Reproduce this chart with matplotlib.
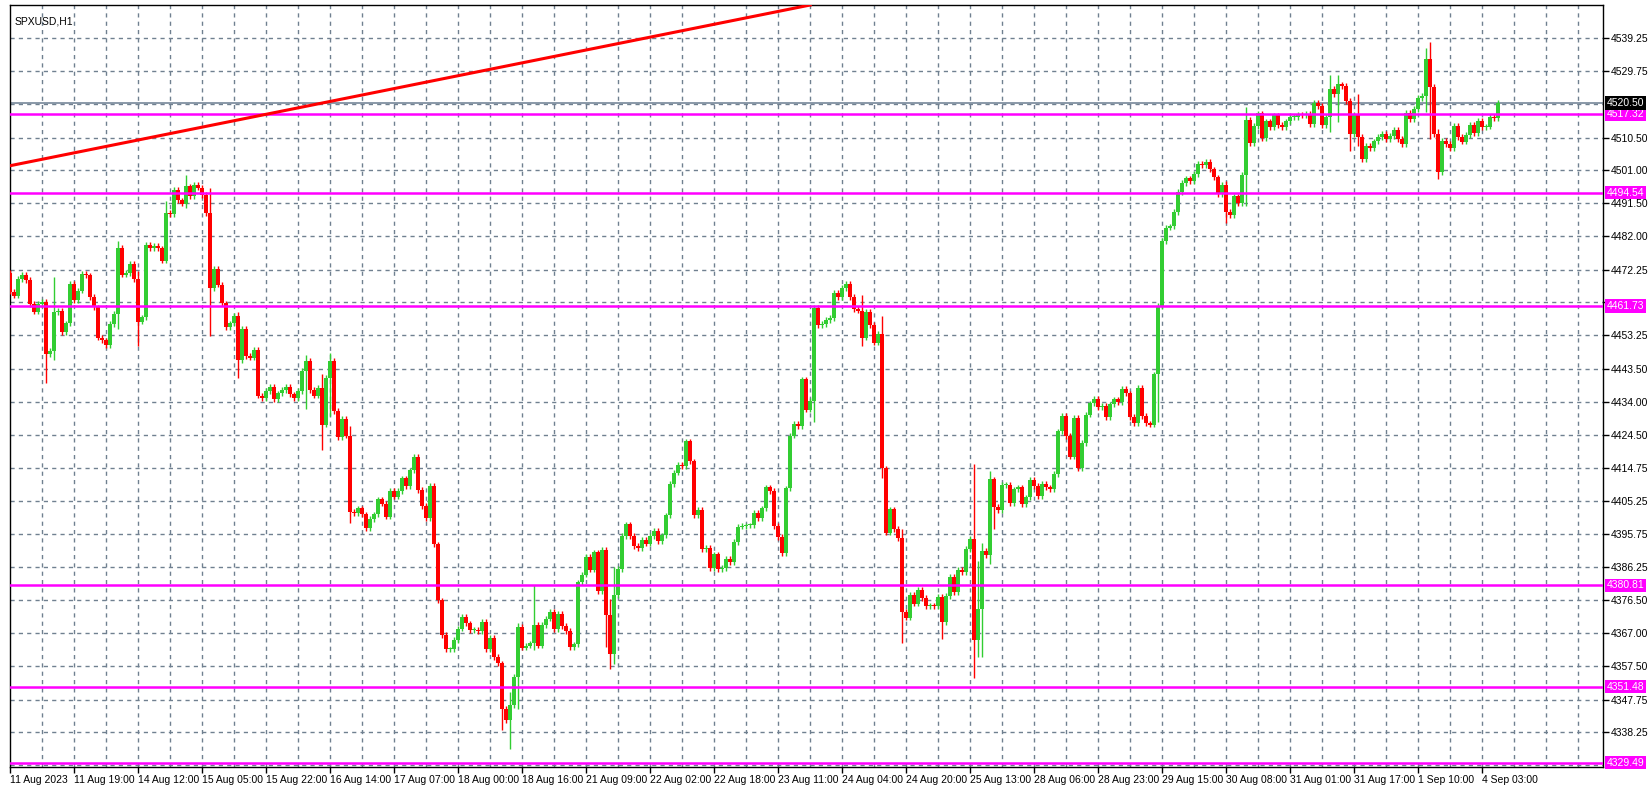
import matplotlib
matplotlib.use("Agg")
import matplotlib.pyplot as plt
import numpy as np

plt.rcParams["font.family"] = ["Liberation Sans", "DejaVu Sans"]

FIRST_OPEN = 4471.3
CLOSES = [
    4465.9, 4464.7, 4469.6, 4470.8, 4469.3, 4462.3, 4460.1, 4462.3, 4463.0, 4447.9,
    4448.7, 4459.9, 4460.4, 4454.2, 4456.7, 4468.2, 4463.5, 4466.2, 4471.1, 4470.6,
    4464.4, 4461.3, 4452.6, 4451.8, 4450.4, 4456.5, 4459.4, 4478.6, 4470.8, 4471.3,
    4474.0, 4469.5, 4457.2, 4458.4, 4479.5, 4478.4, 4479.2, 4478.4, 4474.9, 4488.7,
    4488.4, 4495.3, 4492.3, 4491.4, 4496.4, 4493.5, 4496.7, 4496.0, 4493.8, 4488.7,
    4466.9, 4472.4, 4467.9, 4462.5, 4455.7, 4456.7, 4458.8, 4446.0, 4455.2, 4447.2,
    4446.8, 4449.1, 4435.8, 4435.0, 4437.1, 4438.4, 4434.7, 4436.4, 4437.4, 4438.4,
    4436.1, 4435.0, 4437.1, 4442.9, 4445.8, 4437.4, 4435.8, 4438.1, 4427.4, 4441.0,
    4445.8, 4431.3, 4423.8, 4429.0, 4424.2, 4402.1, 4401.8, 4403.1, 4401.4, 4397.3,
    4400.0, 4401.4, 4405.7, 4404.5, 4400.7, 4408.2, 4406.5, 4408.2, 4411.8, 4409.6,
    4414.1, 4418.0, 4408.4, 4403.8, 4400.2, 4409.6, 4392.7, 4376.5, 4366.4, 4362.3,
    4362.3, 4365.0, 4368.3, 4371.8, 4369.8, 4367.9, 4367.9, 4367.6, 4370.2, 4362.3,
    4365.7, 4360.1, 4358.2, 4345.0, 4341.9, 4346.2, 4354.3, 4368.9, 4362.8, 4363.4,
    4364.0, 4369.3, 4363.4, 4369.3, 4371.2, 4373.2, 4368.1, 4372.5, 4369.1, 4367.6,
    4363.0, 4363.7, 4381.7, 4383.9, 4389.1, 4385.4, 4390.4, 4379.1, 4391.2, 4372.2,
    4360.8, 4378.1, 4385.6, 4395.1, 4398.5, 4395.1, 4392.2, 4391.7, 4394.0, 4392.9,
    4395.1, 4396.6, 4393.7, 4395.3, 4401.1, 4410.2, 4413.5, 4415.7, 4415.4, 4422.5,
    4416.7, 4401.1, 4402.6, 4391.4, 4391.7, 4385.9, 4389.8, 4385.6, 4385.9, 4388.5,
    4387.5, 4393.4, 4397.8, 4398.0, 4398.2, 4398.2, 4401.7, 4400.2, 4403.1, 4409.2,
    4408.2, 4398.0, 4394.9, 4390.2, 4408.9, 4424.2, 4427.6, 4426.9, 4440.5, 4431.7,
    4434.2, 4461.1, 4456.2, 4456.5, 4457.7, 4458.2, 4465.5, 4464.3, 4466.9, 4468.2,
    4464.3, 4460.8, 4460.4, 4452.6, 4460.1, 4456.2, 4451.1, 4453.6, 4414.7, 4396.1,
    4402.8, 4397.2, 4394.6, 4373.2, 4371.5, 4378.1, 4375.5, 4379.4, 4377.1, 4374.9,
    4374.9, 4374.7, 4377.4, 4370.2, 4377.8, 4383.2, 4378.8, 4385.4, 4384.6, 4391.4,
    4394.3, 4365.0, 4373.9, 4390.7, 4389.5, 4411.5, 4403.6, 4402.7, 4409.9, 4409.9,
    4404.7, 4408.6, 4409.2, 4404.3, 4406.3, 4411.3, 4409.6, 4406.6, 4410.1, 4409.2,
    4408.8, 4413.1, 4425.4, 4429.8, 4424.0, 4418.1, 4429.3, 4414.7, 4422.0, 4430.3,
    4433.5, 4434.9, 4432.5, 4432.9, 4429.6, 4433.2, 4434.7, 4433.9, 4437.8, 4436.4,
    4429.6, 4427.8, 4438.0, 4429.8, 4427.7, 4427.4, 4441.9, 4461.6, 4480.5, 4484.4,
    4484.8, 4489.0, 4494.8, 4497.4, 4498.7, 4498.0, 4500.0, 4502.9, 4502.6, 4503.5,
    4501.3, 4499.0, 4494.1, 4496.7, 4489.0, 4488.0, 4493.5, 4491.6, 4499.7, 4515.7,
    4508.9, 4513.8, 4517.5, 4510.3, 4515.2, 4513.6, 4516.9, 4514.2, 4513.6, 4515.2,
    4516.5, 4516.5, 4517.2, 4516.9, 4517.4, 4514.5, 4520.6, 4519.6, 4514.2, 4516.5,
    4524.6, 4523.0, 4525.9, 4525.4, 4521.1, 4511.6, 4517.2, 4510.6, 4504.2, 4508.1,
    4507.4, 4509.4, 4510.6, 4511.6, 4510.0, 4511.0, 4512.8, 4510.1, 4508.7, 4517.7,
    4515.9, 4518.8, 4522.0, 4522.5, 4533.2, 4525.2, 4511.5, 4500.6, 4509.6, 4508.6,
    4507.4, 4513.9, 4510.6, 4509.3, 4511.3, 4514.1, 4511.9, 4515.4, 4513.5, 4513.7,
    4516.4, 4516.1, 4520.5,
]
# notable wicks: bar -> (high, low)
WICKS = {
    9: (4463.5, 4439.5), 11: (4470.0, 4446.0), 27: (4480.5, 4455.0), 32: (4472.0, 4450.0),
    39: (4492.0, 4476.0), 44: (4499.6, 4490.0), 50: (4496.0, 4453.0), 57: (4460.0, 4441.0),
    74: (4447.5, 4432.0), 78: (4442.0, 4420.0), 80: (4448.0, 4430.0), 85: (4427.0, 4399.0),
    123: (4358.0, 4339.0), 125: (4350.0, 4333.5), 127: (4370.0, 4345.0), 131: (4380.8, 4362.0),
    149: (4392.0, 4363.0), 150: (4377.0, 4356.7), 151: (4386.0, 4358.0), 198: (4441.0, 4430.0),
    201: (4462.0, 4428.2), 213: (4465.0, 4450.0), 218: (4458.8, 4412.0), 223: (4397.0, 4364.0),
    233: (4378.0, 4365.2), 241: (4416.0, 4354.0), 242: (4388.0, 4360.0), 243: (4393.0, 4360.0),
    245: (4414.0, 4387.0), 246: (4411.0, 4397.0), 287: (4462.5, 4428.0), 304: (4498.0, 4485.8),
    309: (4519.4, 4490.6), 330: (4528.5, 4512.0), 332: (4528.5, 4515.0), 335: (4522.0, 4506.5),
    337: (4523.0, 4508.0), 354: (4536.5, 4518.0), 355: (4538.2, 4510.0), 357: (4513.0, 4498.5),
}
LEVELS = [4517.32, 4494.54, 4461.73, 4380.81, 4351.48, 4329.49]
BID = 4520.50
TREND_BARS = [0, 102.5]
TREND_PRICES = [4502.35, 4526.2]
Y_TICKS = [4539.25, 4529.75, 4510.50, 4501.00, 4491.50, 4482.00, 4472.25, 4462.75,
           4453.25, 4443.50, 4434.00, 4424.50, 4414.75, 4405.25, 4395.75, 4386.25,
           4376.50, 4367.00, 4357.50, 4347.75, 4338.25]
HIDDEN_TICK_LABELS = [4462.75]
X_LABELS = ["11 Aug 2023", "11 Aug 19:00", "14 Aug 12:00", "15 Aug 05:00", "15 Aug 22:00",
            "16 Aug 14:00", "17 Aug 07:00", "18 Aug 00:00", "18 Aug 16:00", "21 Aug 09:00",
            "22 Aug 02:00", "22 Aug 18:00", "23 Aug 11:00", "24 Aug 04:00", "24 Aug 20:00",
            "25 Aug 13:00", "28 Aug 06:00", "28 Aug 23:00", "29 Aug 15:00", "30 Aug 08:00",
            "31 Aug 01:00", "31 Aug 17:00", "1 Sep 10:00", "4 Sep 03:00"]

W, H = 1648, 786
fig = plt.figure(figsize=(W / 100, H / 100), dpi=100)
fig.patch.set_facecolor("white")
L, R, T, B = 9.5, 1602.7, 5, 766.7
ax = fig.add_axes([L / W, (H - B) / H, (R - L) / W, (B - T) / H])
ax.set_xlim(-0.125, 398.2)
ax.set_ylim(4328.3, 4548.9)

grid_kw = dict(color="#708090", lw=1.0, ls=(0, (3, 3)), zorder=0)
for yv in Y_TICKS + [4520.25, 4328.75]:
    ax.axhline(yv, **grid_kw)
for xv in range(8, 399, 8):
    ax.axvline(xv, **grid_kw)

closes = np.array(CLOSES)
opens = np.concatenate([[FIRST_OPEN], closes[:-1]])
idx = np.arange(len(closes))
highs = np.maximum(opens, closes) + 0.8
lows = np.minimum(opens, closes) - 0.8
for k, (h, l) in WICKS.items():
    highs[k] = max(h, highs[k])
    lows[k] = min(l, lows[k])
colors = np.where(closes >= opens, "#32CD32", "#FF0000")
ax.vlines(idx, lows, highs, colors=colors, lw=1.0, zorder=3)
body = np.maximum(np.abs(closes - opens), 0.3)
ax.bar(idx, body, bottom=np.minimum(opens, closes), width=0.8, color=colors,
       linewidth=0, zorder=4)

ax.axhline(BID, color="#778899", lw=1.2, zorder=2)
for lv in LEVELS:
    ax.axhline(lv, color="#FF00FF", lw=1.8, zorder=5)
ax.axline((TREND_BARS[0], TREND_PRICES[0]), (TREND_BARS[1], TREND_PRICES[1]),
          color="#FF0000", lw=2.2, zorder=6)

for s in ax.spines.values():
    s.set_color("black")
    s.set_linewidth(1.0)
ax.set_yticks(Y_TICKS)
ax.set_yticklabels(["" if v in HIDDEN_TICK_LABELS else f"{v:.2f}" for v in Y_TICKS])
ax.yaxis.tick_right()
ax.tick_params(axis="y", length=4, width=1, labelsize=7.5, pad=2)
ax.set_xticks([16 * i for i in range(len(X_LABELS))])
ax.set_xticklabels(X_LABELS, ha="left")
ax.tick_params(axis="x", length=4, width=1, labelsize=7.5, pad=2)

for lv, fc in [(v, "#FF00FF") for v in LEVELS] + [(BID, "black")]:
    ax.annotate(f"{lv:.2f}", xy=(1, lv), xycoords=("axes fraction", "data"),
                xytext=(3, 0), textcoords="offset points", va="center", ha="left",
                fontsize=7.5, color="white", zorder=10,
                bbox=dict(boxstyle="square,pad=0.15", fc=fc, ec="none"),
                annotation_clip=False)

ax.text(0.003, 0.985, "SPXUSD,H1", transform=ax.transAxes, fontsize=7.5,
        va="top", ha="left")

fig.savefig("out.png", dpi=100, facecolor="white")
